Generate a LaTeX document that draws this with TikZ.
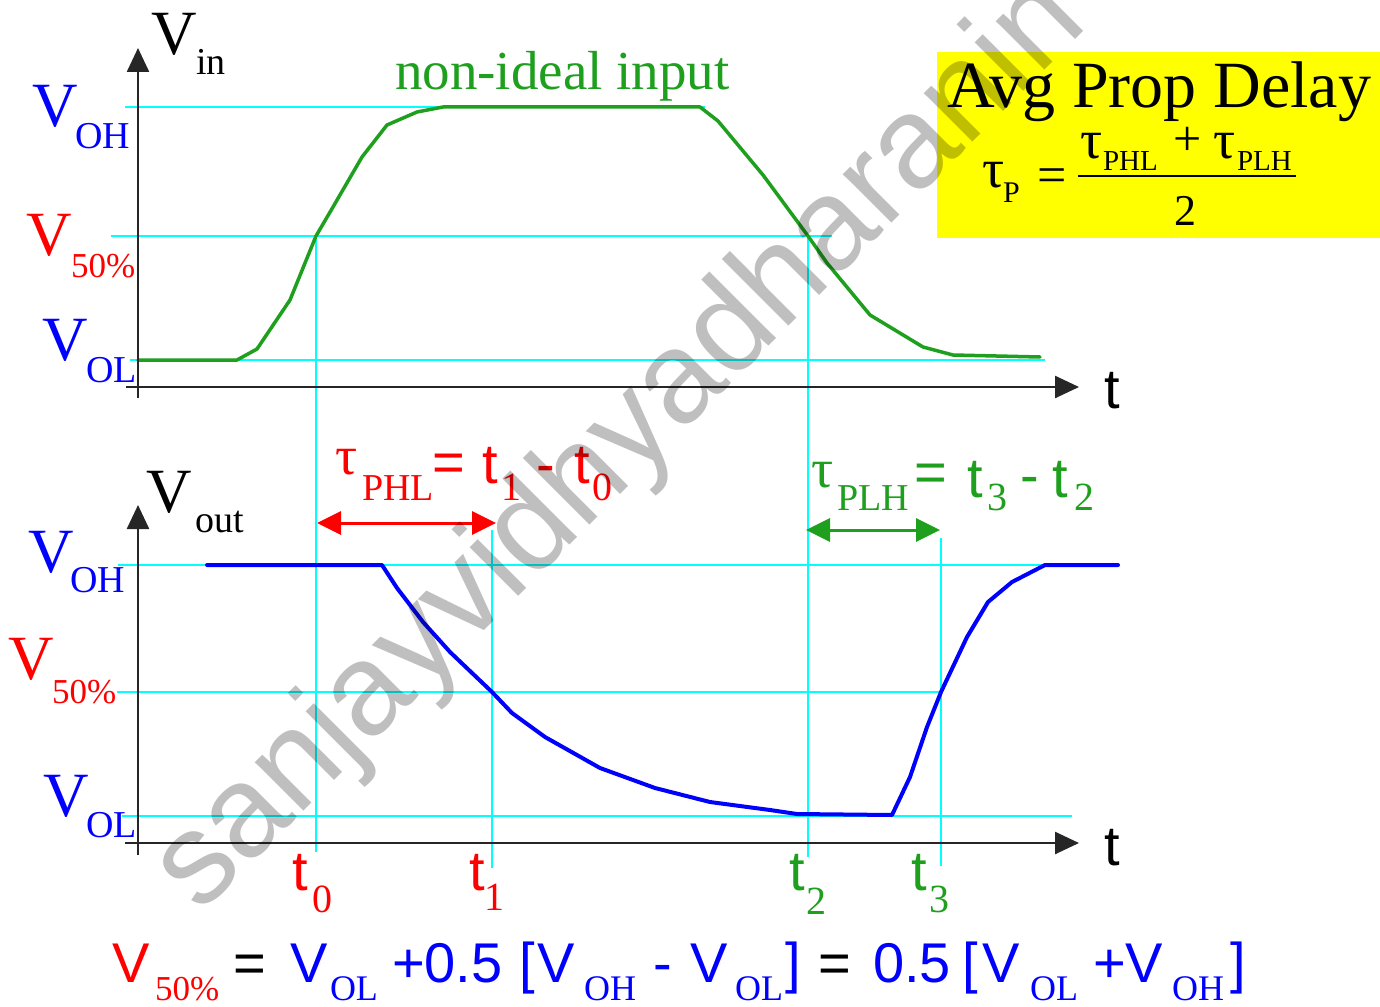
\documentclass[tikz,border=0pt]{standalone}
\usepackage{fontspec}
\setmainfont{Liberation Serif}
\newfontfamily\sansf{Liberation Sans}
\usetikzlibrary{arrows.meta}
\definecolor{cy}{RGB}{0,255,255}
\definecolor{gr}{RGB}{30,160,30}
\definecolor{bl}{RGB}{0,0,255}
\definecolor{rd}{RGB}{255,0,0}
\definecolor{yl}{RGB}{255,255,0}
\newcommand\fsz[1]{\fontsize{#1}{#1}\selectfont}
\begin{document}
\begin{tikzpicture}[x=1pt,y=-1pt,
  txt/.style={inner sep=0pt, outer sep=0pt, anchor=base west},
  big/.style={txt, font=\fsz{63}},
  sub/.style={txt, font=\fsz{38}},
  pct/.style={txt, font=\fsz{35}},
  esub/.style={txt, font=\fsz{36}},
  sbig/.style={txt, font=\sansf\fsz{56}},
  ssub/.style={txt, font=\fsz{40}},
  tau/.style={txt, font=\fsz{55}},
  guide/.style={draw=cy, line width=2pt},
  axis/.style={draw=black!85, line width=2.5pt, -{Triangle[length=24pt,width=22pt]}},
  wave/.style={line width=3.5pt, line join=round, line cap=round},
  dbl/.style={line width=3pt, {Triangle[length=24pt,width=23pt]}-{Triangle[length=24pt,width=23pt]}},
]
\useasboundingbox (0,0) rectangle (1380,1006);
\fill[white] (0,0) rectangle (1380,1006);
% yellow box
\fill[yl] (937,52) rectangle (1380,238);

% guide lines
\draw[guide] (125,107) -- (705,107);
\draw[guide] (111,236) -- (832,236);
\draw[guide] (130,360) -- (1045,360);
\draw[guide] (316,236) -- (316,852);
\draw[guide] (808,236) -- (808,857);
\draw[guide] (118,565) -- (1045,565);
\draw[guide] (117,692) -- (940,692);
\draw[guide] (122,816) -- (1072,816);
\draw[guide] (492,530) -- (492,868);
\draw[guide] (941,538) -- (941,866);

% input waveform
\draw[wave, gr] (138,360) -- (237,360) -- (257,349) -- (290,300) -- (316,236) -- (333,207) -- (362,157) -- (387,125) -- (417,112) -- (443,107) -- (700,107) -- (718,121) -- (763,175) -- (808,236) -- (827,263) -- (870,315) -- (923,347) -- (953,355) -- (1040,357);

% output waveform
\draw[wave, bl, line width=4pt] (207,565) -- (382,565) -- (397,588) -- (423,622) -- (450,652) -- (492,692) -- (512,713) -- (545,737) -- (600,768) -- (655,788) -- (710,802) -- (770,810) -- (797,814) -- (892,815) -- (910,777) -- (927,727) -- (941,692) -- (967,637) -- (988,602) -- (1012,582) -- (1045,565) -- (1118,565);

% axes
\coordinate (ya0) at (138,398); \coordinate (ya1) at (138,48);
\coordinate (xa0) at (126,387); \coordinate (xa1) at (1079,387);
\coordinate (yb0) at (138,855); \coordinate (yb1) at (138,505);
\coordinate (xb0) at (125,843); \coordinate (xb1) at (1079,843);
\draw[axis] (ya0) -- (ya1);
\draw[axis] (xa0) -- (xa1);
\draw[axis] (yb0) -- (yb1);
\draw[axis] (xb0) -- (xb1);

% delay arrows
\coordinate (r1) at (317,523); \coordinate (r2) at (496,523);
\coordinate (g1) at (806,530); \coordinate (g2) at (940,530);
\draw[dbl, rd] (r1) -- (r2);
\draw[dbl, gr] (g1) -- (g2);

% axis titles
\node[big] (vinV) at (151,55) {V};
\node[sub] (vinS) at (196,75) {in};
\node[big] (voutV) at (146,512) {V};
\node[sub] (voutS) at (195,532) {out};
\node[sbig] (tA) at (1104,408) {t};
\node[sbig] (tB) at (1104,865) {t};

% level labels top
\node[big, text=bl] (aV1) at (32,127) {V};
\node[sub, text=bl] (aS1) at (75,148) {OH};
\node[big, text=rd] (aV2) at (27,255) {V};
\node[pct, text=rd] (aS2) at (71,277) {50\%};
\node[big, text=bl] (aV3) at (42,360) {V};
\node[sub, text=bl] (aS3) at (86,382) {OL};
% level labels bottom
\node[big, text=bl] (bV1) at (28,572) {V};
\node[sub, text=bl] (bS1) at (70,592) {OH};
\node[big, text=rd] (bV2) at (9,679) {V};
\node[pct, text=rd] (bS2) at (52,703) {50\%};
\node[big, text=bl] (bV3) at (43,816) {V};
\node[sub, text=bl] (bS3) at (86,837) {OL};

\node[txt, text=gr, font=\fsz{55}] (nonideal) at (395,90) {non-ideal input};

% time labels
\node[sbig, text=rd] (t0) at (292,890) {t};
\node[ssub, text=rd] (t0s) at (312,912) {0};
\node[sbig, text=rd] (t1) at (469,890) {t};
\node[ssub, text=rd] (t1s) at (484,910) {1};
\node[sbig, text=gr] (t2) at (789,890) {t};
\node[ssub, text=gr] (t2s) at (806,914) {2};
\node[sbig, text=gr] (t3) at (911,890) {t};
\node[ssub, text=gr] (t3s) at (929,912) {3};

% tau PHL
\node[tau, text=rd] (phlTau) at (335,474) {τ};
\node[sub, text=rd] (phlS) at (362,500) {PHL};
\node[sbig, text=rd] (phlEq) at (432,481) {=};
\node[sbig, text=rd] (phlT1) at (482,483) {t};
\node[ssub, text=rd] (phlT1s) at (501,500) {1};
\node[sbig, text=rd] (phlMi) at (536,483) {-};
\node[sbig, text=rd] (phlT0) at (574,483) {t};
\node[ssub, text=rd] (phlT0s) at (592,500) {0};
% tau PLH
\node[tau, text=gr] (plhTau) at (811,487) {τ};
\node[sub, text=gr] (plhS) at (837,510) {PLH};
\node[sbig, text=gr] (plhEq) at (914,491) {=};
\node[sbig, text=gr] (plhT3) at (967,497) {t};
\node[ssub, text=gr] (plhT3s) at (987,510) {3};
\node[sbig, text=gr] (plhMi) at (1020,494) {-};
\node[sbig, text=gr] (plhT2) at (1052,497) {t};
\node[ssub, text=gr] (plhT2s) at (1074,510) {2};

% average propagation delay box
\node[txt, font=\fsz{66}] (avg) at (947,107) {Avg Prop Delay};
\node[tau] (tpT) at (982,187) {τ};
\node[txt, font=\fsz{30}] (tpS) at (1003,202) {P};
\node[txt, font=\fsz{52}] (tpEq) at (1037,192) {=};
\draw[line width=2pt] (1078,176) -- (1296,176);
\node[tau] (nT1) at (1080,158) {τ};
\node[txt, font=\fsz{29}] (nS1) at (1103,170) {PHL};
\node[txt, font=\fsz{50}] (nPl) at (1173,155) {+};
\node[tau] (nT2) at (1213,158) {τ};
\node[txt, font=\fsz{29}] (nS2) at (1237,170) {PLH};
\node[txt, font=\fsz{44}] (den) at (1174,225) {2};

% bottom equation
\node[sbig, text=rd] (eV0) at (112,982) {V};
\node[pct, text=rd] (eS0) at (155,1000) {50\%};
\node[sbig] (eEq1) at (233,982) {=};
\node[sbig, text=bl] (eV1) at (290,982) {V};
\node[esub, text=bl] (eS1) at (330,1000) {OL};
\node[sbig, text=bl] (ePl) at (392,982) {+0.5};
\node[sbig, text=bl] (eB1) at (519,982) {[};
\node[sbig, text=bl] (eV2) at (537,982) {V};
\node[esub, text=bl] (eS2) at (584,1000) {OH};
\node[sbig, text=bl] (eMi) at (653,982) {-};
\node[sbig, text=bl] (eV3) at (690,982) {V};
\node[esub, text=bl] (eS3) at (735,1000) {OL};
\node[sbig, text=bl] (eB2) at (785,982) {]};
\node[sbig] (eEq2) at (818,982) {=};
\node[sbig, text=bl] (eHalf) at (873,982) {0.5};
\node[sbig, text=bl] (eB3) at (962,982) {[};
\node[sbig, text=bl] (eV4) at (982,982) {V};
\node[esub, text=bl] (eS4) at (1030,1000) {OL};
\node[sbig, text=bl] (ePV) at (1093,982) {+V};
\node[esub, text=bl] (eS5) at (1172,1000) {OH};
\node[sbig, text=bl] (eB4) at (1230,982) {]};

% watermark
\node[font=\sansf\fsz{130}, text=black, text opacity=0.25, rotate=45, anchor=base, inner sep=0pt] (wm) at (645,470) {sanjayvidhyadharanin};
\end{tikzpicture}
\end{document}
